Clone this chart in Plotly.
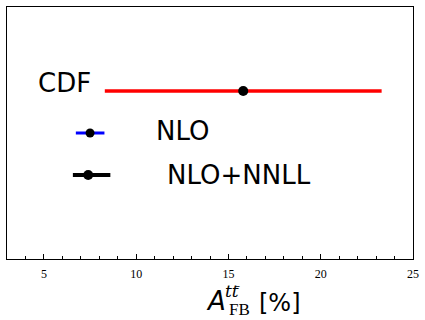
import plotly.graph_objects as go

# ---- data ----
labels = ["CDF", "NLO", "NLO+NNLL"]
centers = [15.8, 7.5, 7.4]
err_minus = [7.5, 0.77, 0.83]
err_plus = [7.5, 0.78, 1.2]
rows = [4, 3, 2]
bar_colors = ["#ff0000", "#0000ff", "#000000"]
x_ticks = [5, 10, 15, 20, 25]

bar_widths = [3.5, 3, 4]
marker_sizes = [10, 9, 10]

fig = go.Figure()
for i in range(len(labels)):
    fig.add_trace(go.Scatter(
        x=[centers[i]], y=[rows[i]], mode="markers",
        marker=dict(color="black", size=marker_sizes[i]),
        error_x=dict(type="data", symmetric=False,
                     array=[err_plus[i]], arrayminus=[err_minus[i]],
                     color=bar_colors[i], thickness=bar_widths[i], width=0),
        showlegend=False, hoverinfo="skip", name=labels[i]))

# text labels next to each row
label_x = [6.1, 12.5, 15.55]
label_shift = [8, 2, 0]
for i in range(len(labels)):
    fig.add_annotation(x=label_x[i], y=rows[i], xref="x", yref="y",
                       text=labels[i], showarrow=False, yshift=label_shift[i],
                       xanchor="center", yanchor="middle",
                       font=dict(family="DejaVu Sans", size=26, color="black"))

# x-axis title pieces
def title_piece(x, y, text, family, size):
    fig.add_annotation(x=x, y=y, xref="paper", yref="paper", text=text,
                       showarrow=False, xanchor="center", yanchor="middle",
                       font=dict(family=family, size=size, color="black"))

title_piece(0.515, -0.165, "<i>A</i>", "DejaVu Sans", 26)
title_piece(0.553, -0.128, "<i>tt</i>", "DejaVu Serif", 17)
title_piece(0.567, -0.105, "–", "DejaVu Sans", 10)
title_piece(0.5725, -0.2016, "FB", "Liberation Serif", 17)
title_piece(0.673, -0.1755, "[%]", "DejaVu Sans", 24)

fig.update_layout(
    width=425, height=320,
    margin=dict(l=7, r=8, t=6, b=61),
    paper_bgcolor="white", plot_bgcolor="white",
    xaxis=dict(range=[3, 25], tickvals=x_ticks, ticks="inside", ticklen=5,
               tickcolor="black", showline=True, linecolor="black", linewidth=1,
               mirror=True, showgrid=False, zeroline=False, ticklabelstandoff=4,
               tickfont=dict(family="Liberation Serif", size=12, color="black"),
               minor=dict(dtick=1, tick0=0, ticks="inside", ticklen=3, tickcolor="black")),
    yaxis=dict(range=[0, 6], showticklabels=False, ticks="", showline=True,
               linecolor="black", linewidth=1, mirror=True, showgrid=False,
               zeroline=False),
)

fig.write_html("out.html", config={"displayModeBar": False},
               post_script="document.body.style.margin='0';document.body.style.overflow='hidden';")
